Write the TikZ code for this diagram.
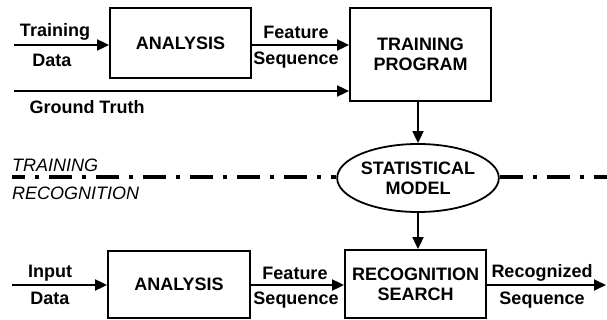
\documentclass[tikz,border=0pt]{standalone}
\usepackage{fontspec}
\setmainfont{Liberation Sans}
\usetikzlibrary{arrows.meta,shapes.geometric}
\tikzset{
  box/.style={draw,line width=1.8pt,rectangle,inner sep=0pt,align=center,font=\fontsize{18}{20}\selectfont\bfseries},
  oval/.style={draw,line width=1.8pt,ellipse,inner sep=0pt,align=center,font=\fontsize{18}{20}\selectfont\bfseries},
  lbl/.style={font=\fontsize{18}{20}\selectfont\bfseries,inner sep=0pt},
  ital/.style={font=\fontsize{18}{20}\selectfont\itshape,inner sep=0pt,anchor=west},
  flow/.style={line width=1.8pt,-{Triangle[length=12pt,width=11pt]}},
  sep/.style={line width=3.2pt,dash pattern=on 23pt off 10pt on 4pt off 10pt}
}
\begin{document}
\begin{tikzpicture}[x=1pt,y=-1pt]
\useasboundingbox (0,0) rectangle (607,320);
% nodes
\node[box,minimum width=141pt,minimum height=70pt] (ana1) at (180.5,43) {ANALYSIS};
\node[box,minimum width=141pt,minimum height=93pt] (tp) at (420.5,54.5) {TRAINING\\PROGRAM};
\node[oval,minimum width=150pt,minimum height=68pt] (sm) at (418,178) {STATISTICAL\\MODEL};
\node[box,minimum width=142pt,minimum height=67pt] (ana2) at (179,284.5) {ANALYSIS};
\node[box,minimum width=141pt,minimum height=68pt] (rs) at (415.5,284) {RECOGNITION\\SEARCH};
% free ends
\coordinate (td) at (14,45);
\coordinate (gt) at (14,91);
\coordinate (id) at (12,285);
\coordinate (out) at (606,285);
\coordinate (sepL) at (12,177);
\coordinate (sepR) at (607,177);
% connectors
\draw[flow] (td) -- (td -| ana1.west);
\draw[flow] (ana1.east |- td) -- (tp.west |- td);
\draw[flow] (gt) -- (tp.west |- gt);
\draw[flow] (tp.south -| sm.north) -- (sm.north);
\draw[flow] (sm.south) -- (rs.north -| sm.south);
\draw[flow] (id) -- (id -| ana2.west);
\draw[flow] (ana2.east |- id) -- (rs.west |- id);
\draw[flow] (rs.east |- out) -- (out);
% separator
\draw[sep,dash phase=10pt] (sepL) -- (sepL -| sm.west);
\draw[sep] (sepR -| sm.east) -- (sepR);
% labels
\node[lbl] (l1) at (55,32) {Training};
\node[lbl] (l2) at (52,60) {Data};
\node[lbl] (l3) at (296,32) {Feature};
\node[lbl] (l4) at (296,60) {Sequence};
\node[lbl] (l5) at (87,107) {Ground Truth};
\node[ital] (l6) at (12,165) {TRAINING};
\node[ital] (l7) at (12,193) {RECOGNITION};
\node[lbl] (l8) at (50,273) {Input};
\node[lbl] (l9) at (50,298) {Data};
\node[lbl] (l10) at (295,273) {Feature};
\node[lbl] (l11) at (296,300) {Sequence};
\node[lbl] (l12) at (542,273) {Recognized};
\node[lbl] (l13) at (542,300) {Sequence};
\end{tikzpicture}
\end{document}
